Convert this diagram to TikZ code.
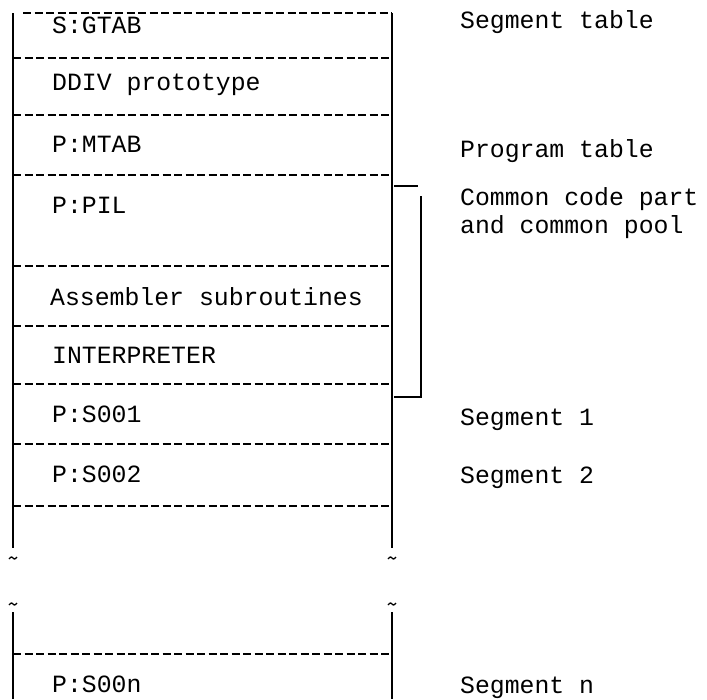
\documentclass[tikz,border=0pt]{standalone}
\usepackage{fontspec}
\setmonofont{Liberation Mono}
\begin{document}
\begin{tikzpicture}[x=1pt,y=-1pt,
  rowline/.style={line width=1.4pt,dash pattern=on 8pt off 3.5pt},
  sideline/.style={line width=1.5pt},
  celltext/.style={anchor=base west,inner sep=0pt,font=\ttfamily\fontsize{24.8}{28}\selectfont},
  labeltext/.style={anchor=base west,inner sep=0pt,font=\ttfamily\fontsize{24.8}{28}\selectfont}]
\useasboundingbox (0,0) rectangle (707,699);
% side lines
\draw[sideline] (13,13) -- (13,548);
\draw[sideline] (392,13) -- (392,548);
\draw[sideline] (13,612) -- (13,699);
\draw[sideline] (392,612) -- (392,699);
% tildes
\foreach \x in {13,392}{
  \foreach \y in {558,604}{
    \draw[line width=1.3pt] (\x-4,\y+1) .. controls (\x-2,\y-2) and (\x,\y-1) .. (\x,\y) .. controls (\x,\y+1) and (\x+2,\y+2) .. (\x+4,\y-1);
  }
}
% row separators
\draw[rowline] (23,13) -- (392,13);
\foreach \y in {58,115,175,266,326,384,444,506,654}{
  \draw[rowline] (13,\y) -- (392,\y);
}
% bracket
\draw[sideline] (394,186) -- (418,186);
\draw[sideline] (421,196) -- (421,397) -- (394,397);
% cell texts
\node[celltext] (gtab) at (52,33) {S:GTAB};
\node[celltext] (ddiv) at (52,90) {DDIV prototype};
\node[celltext] (mtab) at (52,152) {P:MTAB};
\node[celltext] (pil) at (52,213) {P:PIL};
\node[celltext] (asm) at (50,305) {Assembler subroutines};
\node[celltext] (interp) at (52,363) {INTERPRETER};
\node[celltext] (s001) at (52,422) {P:S001};
\node[celltext] (s002) at (52,482) {P:S002};
\node[celltext] (s00n) at (52,692) {P:S00n};
% labels
\node[labeltext] (lseg) at (460,28) {Segment table};
\node[labeltext] (lprog) at (460,157) {Program table};
\node[labeltext] (lcom1) at (460,205) {Common code part};
\node[labeltext] (lcom2) at (460,233) {and common pool};
\node[labeltext] (ls1) at (460,425) {Segment 1};
\node[labeltext] (ls2) at (460,483) {Segment 2};
\node[labeltext] (lsn) at (460,693) {Segment n};
\end{tikzpicture}
\end{document}
